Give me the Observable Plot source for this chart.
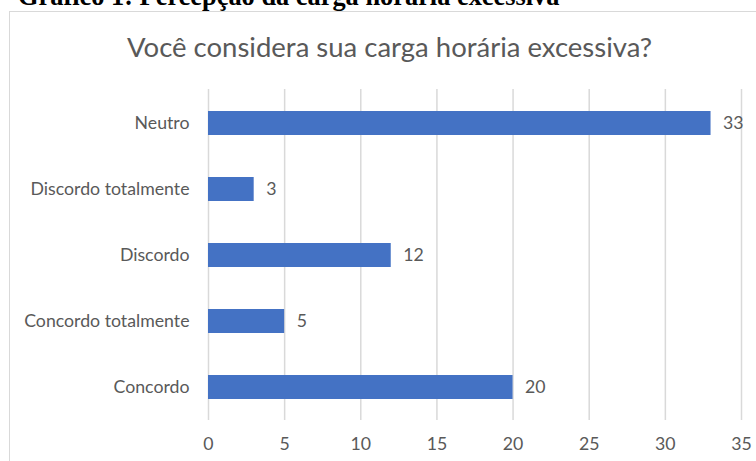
<!DOCTYPE html>
<html>
<head>
<meta charset="utf-8">
<script src="https://cdn.jsdelivr.net/npm/d3@7"></script>
<script src="https://cdn.jsdelivr.net/npm/@observablehq/plot@0.6"></script>
<style>
  html, body { margin: 0; padding: 0; background: #fff; }
  body { width: 756px; height: 461px; position: relative; overflow: hidden; }
  #frame { position: absolute; left: 9px; top: 11px; width: 900px; height: 600px; border: 1.5px solid #d9d9d9; box-sizing: border-box; }
  #chart { position: absolute; left: 0; top: 0; }
  #overlay { position: absolute; left: 0; top: 0; }
</style>
</head>
<body>
<div id="frame"></div>
<div id="chart"></div>
<svg id="overlay" width="756" height="461"></svg>
<script>
const headingText = "Gráfico 1: Percepção da carga horária excessiva";
const titleText = "Você considera sua carga horária excessiva?";
const categories = ["Neutro", "Discordo totalmente", "Discordo", "Concordo totalmente", "Concordo"];
const values = [33, 3, 12, 5, 20];
const xTicks = [0, 5, 10, 15, 20, 25, 30, 35];

const data = categories.map((c, i) => ({cat: c, value: values[i]}));

const ctx = document.createElement("canvas").getContext("2d");
function fitSize(text, family, weight, target) {
  ctx.font = `${weight} 100px ${family}`;
  return 100 * target / ctx.measureText(text).width;
}
const sansFamily = "Lato, 'Open Sans', sans-serif";
const labelSize = fitSize("Discordo totalmente", "Lato", "normal", 159);
const titleSize = fitSize(titleText, "Lato", "normal", 525);
const headingSize = fitSize(headingText, "'Liberation Serif'", "bold", 542);

const chart = Plot.plot({
  width: 756,
  height: 461,
  marginLeft: 208,
  marginRight: 15,
  marginTop: 89,
  marginBottom: 41,
  style: {fontFamily: sansFamily, fontSize: labelSize + "px", color: "#595959", background: "transparent"},
  x: {domain: [0, 35]},
  y: {domain: categories, paddingInner: 0.6375, paddingOuter: 0.319},
  marks: [
    Plot.ruleX(xTicks, {stroke: "#d9d9d9", strokeWidth: 1.5}),
    Plot.barX(data, {x: "value", y: "cat", fill: "#4472C4"}),
    Plot.text(data, {x: "value", y: "cat", text: d => String(d.value), textAnchor: "start", dx: 12, fill: "#595959"}),
    Plot.axisX({ticks: xTicks, tickSize: 0, tickPadding: 17, label: null, fill: "#595959"}),
    Plot.axisY({tickSize: 0, tickPadding: 19, label: null, fill: "#595959"})
  ]
});
document.getElementById("chart").appendChild(chart);

const ov = d3.select("#overlay");
ov.append("text")
  .attr("x", 18).attr("y", 5)
  .attr("font-family", "'Liberation Serif', serif")
  .attr("font-weight", "bold")
  .attr("font-size", headingSize)
  .attr("fill", "#000")
  .text(headingText);
ov.append("text")
  .attr("x", 389.5).attr("y", 57)
  .attr("text-anchor", "middle")
  .attr("font-family", sansFamily)
  .attr("font-size", titleSize)
  .attr("fill", "#595959")
  .text(titleText);
</script>
</body>
</html>
